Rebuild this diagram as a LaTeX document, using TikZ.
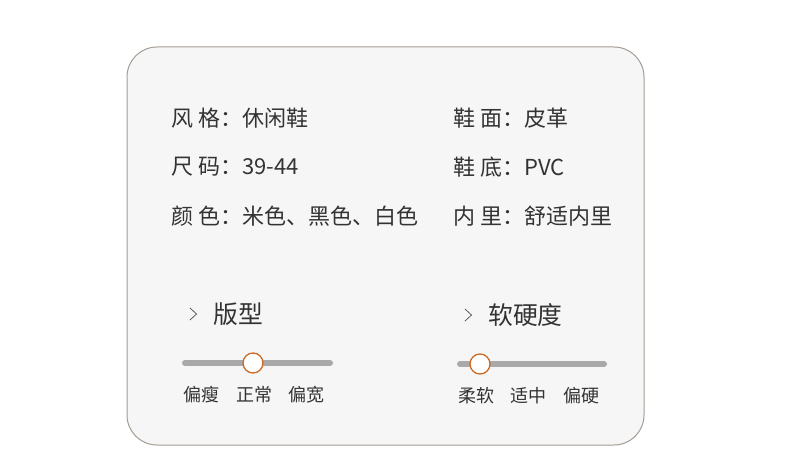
\documentclass[tikz,border=0pt]{standalone}
\usepackage{fontspec}
\newfontfamily\cjk{Noto Sans CJK SC}
\definecolor{cardbg}{HTML}{F6F6F6}
\definecolor{cardline}{HTML}{A59C94}
\definecolor{inktext}{HTML}{333333}
\definecolor{trackgray}{HTML}{A9A9A9}
\definecolor{knobline}{HTML}{CC6A22}
\tikzset{
  attr/.style={anchor=west, inner sep=0pt, text=inktext, font=\cjk\fontsize{22}{22}\selectfont},
  head/.style={anchor=west, inner sep=0pt, text=inktext, font=\cjk\fontsize{24.8}{24.8}\selectfont},
  tick/.style={anchor=center, inner sep=0pt, text=inktext, font=\cjk\fontsize{18}{18}\selectfont},
  track/.style={line width=6pt, line cap=round, color=trackgray},
  knob/.style={circle, minimum size=20pt, inner sep=0pt, fill=white, draw=knobline, line width=1.3pt},
  chev/.style={line width=0.8pt, color=inktext!80},
}
\begin{document}
\begin{tikzpicture}[x=1pt,y=-1pt]
    \useasboundingbox (0,0) rectangle (790,476);
    \fill[white] (0,0) rectangle (790,476);
    \draw[rounded corners=30pt, fill=cardbg, draw=cardline, line width=1pt] (127,47) rectangle (644,445);
    % attributes
    \node[attr] (style) at (171,118) {风 格：休闲鞋};
    \node[attr] (size) at (171,167) {尺 码：39-44};
    \node[attr] (colour) at (171,216) {颜 色：米色、黑色、白色};
    \node[attr] (upper) at (453,118) {鞋 面：皮革};
    \node[attr] (sole) at (453,167) {鞋 底：PVC};
    \node[attr] (lining) at (453,216) {内 里：舒适内里};
    % fit slider
    \draw[chev] (190,308) -- (196.5,314) -- (190,320);
    \node[head] (fit) at (213,314) {版型};
    \draw[track] (185,363) -- (330,363);
    \node[knob] (fitknob) at (253,363) {};
    \node[tick] (slim) at (201,395) {偏瘦};
    \node[tick] (normal) at (254,395) {正常};
    \node[tick] (wide) at (306.5,395) {偏宽};
    % softness slider
    \draw[chev] (465,309) -- (471.5,315) -- (465,321);
    \node[head] (soft) at (488,315) {软硬度};
    \draw[track] (460,364) -- (604,364);
    \node[knob] (softknob) at (480,364) {};
    \node[tick] (supple) at (476.5,396) {柔软};
    \node[tick] (medium) at (528.5,396) {适中};
    \node[tick] (firm) at (581.5,396) {偏硬};
\end{tikzpicture}
\end{document}
